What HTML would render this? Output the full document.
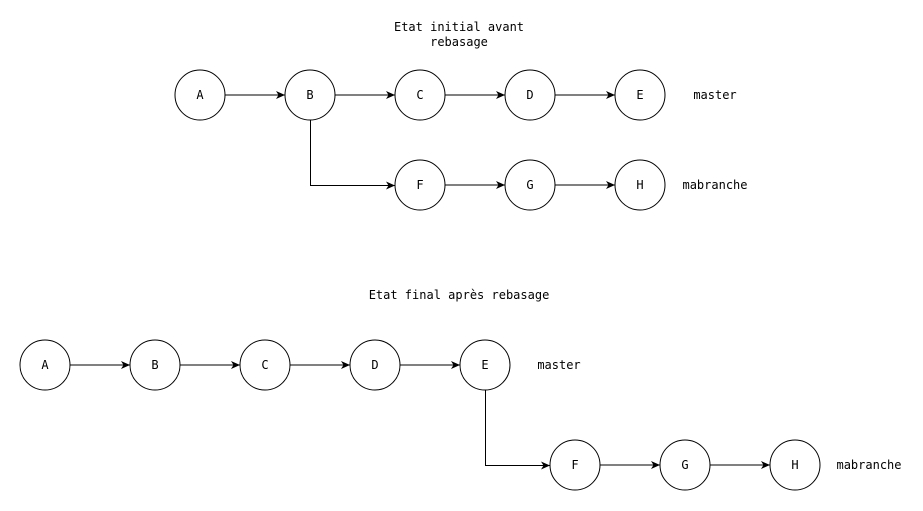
<!DOCTYPE html>
<html><head><style>body{margin:0;background:#fff}svg{display:block}text{font-family:"DejaVu Sans Mono","Liberation Mono",monospace;font-size:12px;fill:#000}</style></head>
<body>
<svg width="923" height="511" viewBox="0 0 923 511" xmlns="http://www.w3.org/2000/svg">
<defs><marker id="a" markerWidth="10" markerHeight="8" refX="9" refY="4" orient="auto" markerUnits="userSpaceOnUse"><path d="M0,0 L9,4 L0,8 L2.5,4 Z" fill="#000"/></marker></defs>
<g fill="#fff" stroke="#000" stroke-width="1">
<circle cx="200" cy="95" r="25"/><circle cx="310" cy="95" r="25"/><circle cx="420" cy="95" r="25"/><circle cx="530" cy="95" r="25"/><circle cx="640" cy="95" r="25"/>
<circle cx="420" cy="185" r="25"/><circle cx="530" cy="185" r="25"/><circle cx="640" cy="185" r="25"/>
<circle cx="45" cy="365" r="25"/><circle cx="155" cy="365" r="25"/><circle cx="265" cy="365" r="25"/><circle cx="375" cy="365" r="25"/><circle cx="485" cy="365" r="25"/>
<circle cx="575" cy="465" r="25"/><circle cx="685" cy="465" r="25"/><circle cx="795" cy="465" r="25"/>
</g>
<g fill="none" stroke="#000" stroke-width="1" marker-end="url(#a)">
<path d="M225,95H285"/><path d="M335,95H395"/><path d="M445,95H505"/><path d="M555,95H615"/>
<path d="M310.5,120V185.5H395"/><path d="M445,185H505"/><path d="M555,185H615"/>
<path d="M70,365H130"/><path d="M180,365H240"/><path d="M290,365H350"/><path d="M400,365H460"/>
<path d="M485.5,390V465.5H550"/><path d="M600,465H660"/><path d="M710,465H770"/>
</g>
<g text-anchor="middle" dominant-baseline="central">
<text x="200" y="95">A</text><text x="310" y="95">B</text><text x="420" y="95">C</text><text x="530" y="95">D</text><text x="640" y="95">E</text>
<text x="420" y="185">F</text><text x="530" y="185">G</text><text x="640" y="185">H</text>
<text x="45" y="365">A</text><text x="155" y="365">B</text><text x="265" y="365">C</text><text x="375" y="365">D</text><text x="485" y="365">E</text>
<text x="575" y="465">F</text><text x="685" y="465">G</text><text x="795" y="465">H</text>
<text x="715" y="95">master</text><text x="715" y="185">mabranche</text>
<text x="559" y="365">master</text><text x="869" y="465">mabranche</text>
<text x="459" y="27">Etat initial avant</text><text x="459" y="42">rebasage</text>
<text x="459" y="295">Etat final après rebasage</text>
</g>
</svg>
</body></html>
